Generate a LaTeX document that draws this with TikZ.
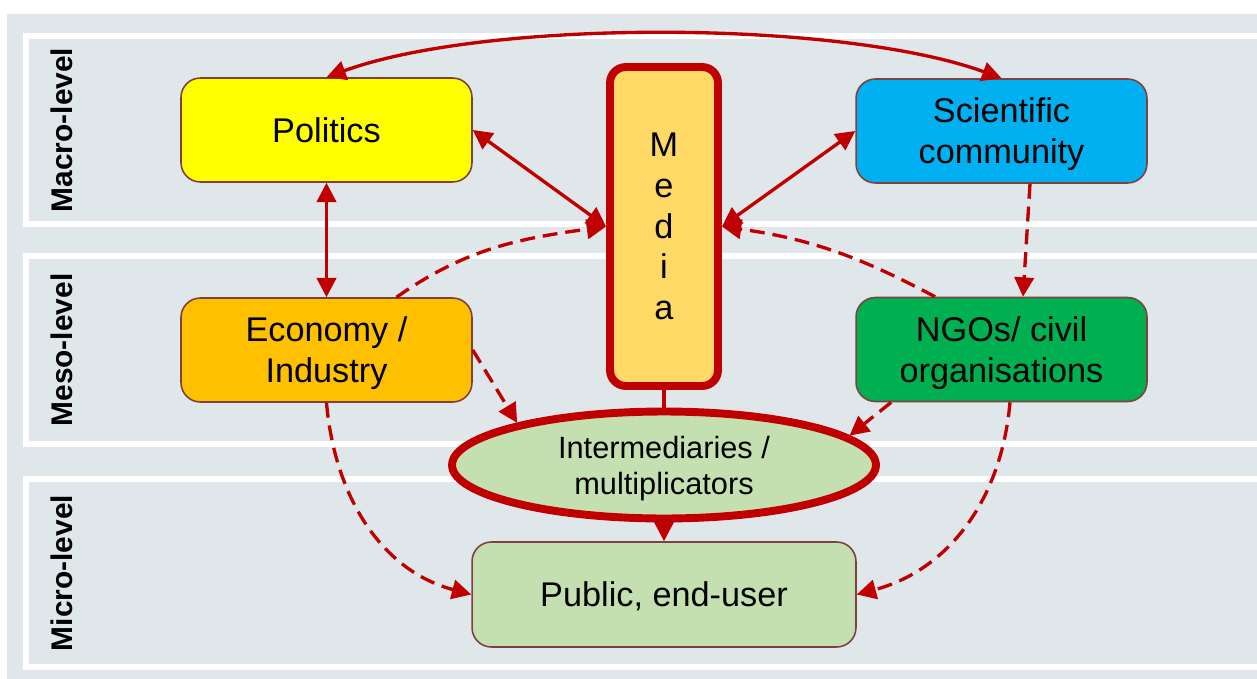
\documentclass[tikz,border=0pt]{standalone}
\usepackage{fontspec}
\setmainfont{Liberation Sans}
\usetikzlibrary{arrows.meta,shapes.geometric}
\definecolor{bandgray}{HTML}{E0E7EB}
\definecolor{arrowred}{HTML}{C00000}
\definecolor{boxedge}{HTML}{7F4040}
\definecolor{polyellow}{HTML}{FFFF00}
\definecolor{sciblue}{HTML}{00B0F0}
\definecolor{ecoorange}{HTML}{FFC000}
\definecolor{ngogreen}{HTML}{00B050}
\definecolor{mediafill}{HTML}{FFD966}
\definecolor{publicgreen}{HTML}{C5E0B0}

\begin{document}
\begin{tikzpicture}[x=0.02cm, y=0.02cm,
        actor/.style={rectangle, rounded corners=11pt, draw=boxedge, line width=0.9pt, minimum width=5.82cm, minimum height=2.08cm, inner sep=0pt, text depth=0pt, align=center, font=\fontsize{19.5}{23.4}\selectfont},
        level/.style={rotate=90, anchor=base, font=\bfseries\fontsize{17}{20}\selectfont},
        link/.style={draw=arrowred, line width=1.9pt, -{Triangle[length=11pt,width=11pt]}},
        both/.style={link, {Triangle[length=11pt,width=11pt]}-{Triangle[length=11pt,width=11pt]}},
        weak/.style={link, dash pattern=on 8.5pt off 4.5pt}]
        \useasboundingbox (0,0) rectangle (1257,-679);
        \fill[white] (0,0) rectangle (1257,-679);
        \fill[bandgray] (7,-14) rectangle (1257,-679);
        \foreach \i/\t/\b/\lvl in {1/36/224/Macro-level, 2/256/444/Meso-level, 3/479/667/Micro-level} {
            \draw[white, line width=3.4pt] (26,-\t) rectangle (1275,-\b);
            \node[level] (level\i) at (72,{-(\t+\b)/2}) {\lvl};
        }
        \node[actor, fill=polyellow] (pol) at (326.5,-130) {Politics};
        \node[actor, fill=sciblue] (sci) at (1001.5,-131) {Scientific\\community};
        \node[actor, fill=ecoorange] (econ) at (326.5,-350) {Economy /\\Industry};
        \node[actor, fill=ngogreen] (ngo) at (1001.5,-349.5) {NGOs/ civil\\organisations};
        \node[actor, fill=publicgreen, minimum width=7.68cm, minimum height=2.1cm] (public) at (664,-594.5) {Public, end-user};
        \node[rectangle, rounded corners=9pt, draw=arrowred, line width=4.5pt, fill=mediafill, minimum width=2.16cm, minimum height=6.38cm, inner sep=0pt, align=center, font=\fontsize{19.5}{23.2}\selectfont] (media) at (664,-226.5) {M\\e\\d\\i\\a};
        \node[ellipse, draw=arrowred, line width=4.5pt, fill=publicgreen, minimum width=8.48cm, minimum height=2.14cm, inner sep=0pt, text depth=0pt, align=center, font=\fontsize{17.5}{20.5}\selectfont] (interm) at (664,-465) {Intermediaries /\\multiplicators};
        \draw[both] (pol.north) to[out=20, in=160, looseness=0.65] (sci.north);
        \draw[both] (pol.south) -- (econ.north);
        \draw[both] (pol.east) -- (media.west);
        \draw[both] (sci.west) -- (media.east);
        \draw[weak] ([xshift=0.57cm]sci.south) -- ([xshift=0.43cm]ngo.north);
        \draw[weak] ([xshift=1.4cm]econ.north) to[out=35, in=188] (media.west);
        \draw[weak] ([xshift=-1.33cm]ngo.north) to[out=152, in=-8] (media.east);
        \draw[weak] (econ.east) -- (interm.164);
        \draw[weak] ([xshift=0.72cm]ngo.south west) -- (interm.9);
        \draw[weak] (econ.south) to[out=-85, in=165] (public.west);
        \draw[weak] ([xshift=0.17cm]ngo.south) to[out=-95, in=15] (public.east);
        \draw[arrowred, line width=1.9pt] (media.south) -- (interm.north);
        \draw[link] (interm.south) -- (public.north);
    \end{tikzpicture}
\end{document}
